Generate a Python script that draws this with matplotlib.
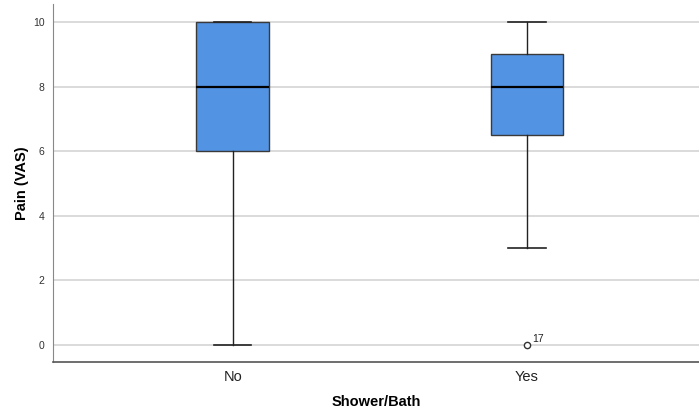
import matplotlib.pyplot as plt

plt.rcParams['font.family'] = ['Liberation Sans', 'DejaVu Sans']

groups = ['No', 'Yes']
whisker_low = [0, 3]
q1 = [6, 6.5]
median = [8, 8]
q3 = [10, 9]
whisker_high = [10, 10]
outliers = [[], [0]]
outlier_ids = [[], ['17']]

stats = []
for i, g in enumerate(groups):
    stats.append({'label': g, 'whislo': whisker_low[i], 'q1': q1[i], 'med': median[i],
                  'q3': q3[i], 'whishi': whisker_high[i], 'fliers': outliers[i]})

fig = plt.figure(figsize=(6.99, 4.12), dpi=100)
ax = fig.add_axes([0.0758, 0.1214, 0.9242, 0.8686])

positions = [1, 2]
ax.bxp(stats, positions=positions, widths=0.248, patch_artist=True, showfliers=True,
       boxprops=dict(facecolor='#5393e4', edgecolor='#3a3a3a', linewidth=1.0),
       medianprops=dict(color='black', linewidth=1.6),
       whiskerprops=dict(color='#222222', linewidth=1.0),
       capprops=dict(color='#222222', linewidth=1.2),
       capwidths=0.126,
       flierprops=dict(marker='o', markerfacecolor='white', markeredgecolor='#333333',
                       markersize=4.5, markeredgewidth=1.0),
       zorder=3)

# case number next to each outlier
for i, ids in enumerate(outlier_ids):
    for val, lab in zip(outliers[i], ids):
        ax.annotate(lab, (positions[i], val), xytext=(4, 2), textcoords='offset points',
                    fontsize=7.5, color='#222222')

ax.set_xlim(0.388, 2.585)
ax.set_ylim(-0.53, 10.56)
ax.set_yticks([0, 2, 4, 6, 8, 10])
ax.yaxis.grid(True, color='#d4d4d4', linewidth=1.2, zorder=0)
ax.set_axisbelow(True)
ax.tick_params(axis='y', length=0, labelsize=7.5, colors='#333333', pad=6)
ax.tick_params(axis='x', length=0, labelsize=10.5, colors='#222222', pad=6)

for s in ['top', 'right']:
    ax.spines[s].set_visible(False)
ax.spines['left'].set_color('#888888')
ax.spines['bottom'].set_color('#555555')
ax.spines['bottom'].set_linewidth(1.2)

ax.set_xlabel('Shower/Bath', fontsize=10.5, fontweight='bold', labelpad=8)
ax.set_ylabel('Pain (VAS)', fontsize=10.5, fontweight='bold', labelpad=3)

fig.savefig('out.png', dpi=100)
